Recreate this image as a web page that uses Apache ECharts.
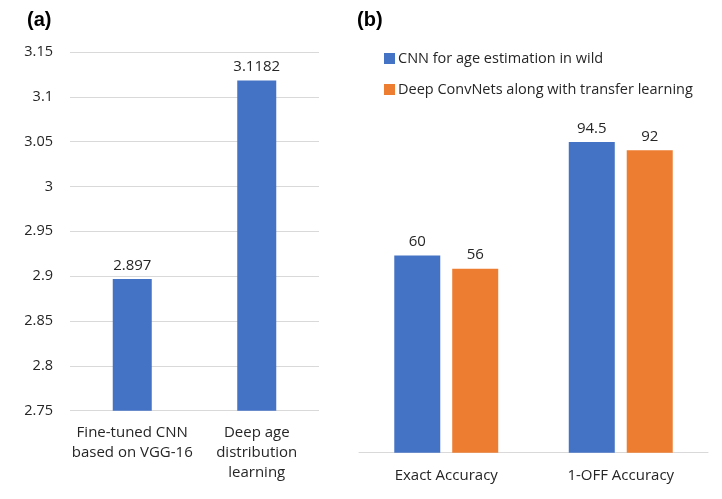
<!DOCTYPE html>
<html><head><meta charset="utf-8">
<script src="https://cdn.jsdelivr.net/npm/echarts@6/dist/echarts.min.js"></script>
<style>html,body{margin:0;padding:0;background:#fff}#c{width:722px;height:499px}</style>
</head><body><div id="c"></div>
<script>
const catsA = ["Fine-tuned CNN\nbased on VGG-16", "Deep age\ndistribution\nlearning"];
const valsA = [2.897, 3.1182];
const ticksA = { min: 2.75, max: 3.15, interval: 0.05 };
const catsB = ["Exact Accuracy", "1-OFF Accuracy"];
const seriesBNames = ["CNN for age estimation in wild", "Deep ConvNets along with transfer learning"];
const valsB1 = [60, 94.5];
const valsB2 = [56, 92];

const FONT = "'Open Sans', 'Noto Sans', sans-serif";
const txt = "#262626";
const chart = echarts.init(document.getElementById('c'), null, {renderer: 'canvas'});
const lbl = {show: true, position: 'top', distance: 6, color: txt, fontFamily: FONT, fontSize: 15};
chart.setOption({
  animation: false,
  backgroundColor: '#fff',
  title: [
    {text: '(a)', left: 22, top: 5, textStyle: {fontFamily: 'Liberation Sans, Arial', fontWeight: 'bold', fontSize: 20, color: '#000'}},
    {text: '(b)', left: 352, top: 5, textStyle: {fontFamily: 'Liberation Sans, Arial', fontWeight: 'bold', fontSize: 20, color: '#000'}}
  ],
  legend: {
    data: seriesBNames, orient: 'vertical', left: 379, top: 46, itemWidth: 11, itemHeight: 11, itemGap: 16,
    icon: 'rect', textStyle: {fontFamily: FONT, fontSize: 14.5, color: txt, padding: [0, 0, 0, -2]}
  },
  grid: [
    {left: 70, right: 403, top: 52, bottom: 88.3},
    {left: 359, right: 14, top: 124, bottom: 46.3}
  ],
  xAxis: [
    {type: 'category', gridIndex: 0, data: catsA, axisLine: {show: false}, axisTick: {show: false},
     axisLabel: {margin: 12, lineHeight: 20, color: txt, fontFamily: FONT, fontSize: 15, interval: 0}},
    {type: 'category', gridIndex: 1, data: catsB, axisLine: {show: true, lineStyle: {color: '#d9d9d9', width: 1}}, axisTick: {show: false},
     axisLabel: {margin: 13, lineHeight: 20, color: txt, fontFamily: FONT, fontSize: 15, interval: 0}}
  ],
  yAxis: [
    {type: 'value', gridIndex: 0, min: ticksA.min, max: ticksA.max, interval: ticksA.interval,
     axisLine: {show: false}, axisTick: {show: false},
     splitLine: {lineStyle: {color: '#d9d9d9', width: 1}},
     axisLabel: {margin: 17, color: txt, fontFamily: FONT, fontSize: 14.5, formatter: v => String(+v.toFixed(2))}},
    {type: 'value', gridIndex: 1, min: 0, max: 100, show: false, splitLine: {show: false}}
  ],
  series: [
    {name: 'a', type: 'bar', xAxisIndex: 0, yAxisIndex: 0, data: valsA, barWidth: 39,
     itemStyle: {color: '#4472C4'}, label: Object.assign({}, lbl, {formatter: p => String(p.value)})},
    {name: seriesBNames[0], type: 'bar', xAxisIndex: 1, yAxisIndex: 1, data: valsB1, barWidth: 46, barGap: '26%',
     itemStyle: {color: '#4472C4'}, label: lbl},
    {name: seriesBNames[1], type: 'bar', xAxisIndex: 1, yAxisIndex: 1, data: valsB2, barWidth: 46, barGap: '26%',
     itemStyle: {color: '#ED7D31'}, label: lbl}
  ]
});
</script></body></html>
